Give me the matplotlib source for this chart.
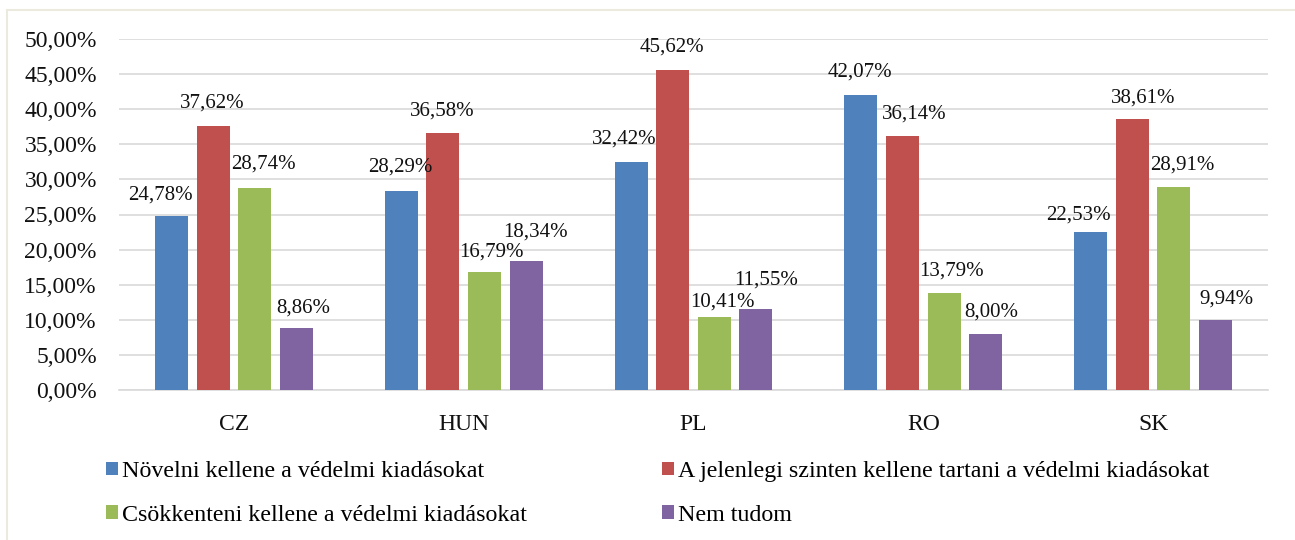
import numpy as np
import matplotlib.pyplot as plt
from matplotlib.patches import Patch, Rectangle
from matplotlib.ticker import FuncFormatter

plt.rcParams['font.family'] = ['Liberation Serif', 'DejaVu Serif']

# Data
countries = ["CZ", "HUN", "PL", "RO", "SK"]
series_names = [
    "Növelni kellene a védelmi kiadásokat",
    "A jelenlegi szinten kellene tartani a védelmi kiadásokat",
    "Csökkenteni kellene a védelmi kiadásokat",
    "Nem tudom",
]
novelni = [24.78, 28.29, 32.42, 42.07, 22.53]
jelenlegi = [37.62, 36.58, 45.62, 36.14, 38.61]
csokkenteni = [28.74, 16.79, 10.41, 13.79, 28.91]
nem_tudom = [8.86, 18.34, 11.55, 8.00, 9.94]

colors = ["#4F81BD", "#C0504D", "#9BBB59", "#8064A2"]

# label nudges (pixels) to mimic the hand-placed labels of the original
label_dx = [[-11, -1, 9, 7], [-1, -1, 7, 9], [-7, -1, 8, 10], [-1, 12, 7, 6], [-12, 11, 8, 11]]
label_dy = [[21, 23, 24, 20], [24, 22, 20, 29], [23, 23, 15, 29], [23, 22, 22, 22], [17, 21, 22, 21]]

fig = plt.figure(figsize=(12.95, 5.4), dpi=100)
ax = fig.add_axes([119 / 1295, 1 - 390 / 540, (1268 - 119) / 1295, (390 - 39) / 540])

x = np.arange(len(countries))
width = 0.1436
step = 0.181
all_series = [novelni, jelenlegi, csokkenteni, nem_tudom]

for i, vals in enumerate(all_series):
    pos = x + (i - 1.5) * step
    ax.bar(pos, np.array(vals) / 100, width, color=colors[i], zorder=3)
    for j, v in enumerate(vals):
        ax.annotate(f"{v:.2f}%".replace(".", ","), (pos[j], v / 100),
                    xytext=(label_dx[j][i], label_dy[j][i]), textcoords="offset pixels",
                    ha="center", va="center", fontsize=15, color="#111111", zorder=4)

ax.set_xlim(-0.5, len(countries) - 0.5)
ax.set_ylim(0, 0.5)
ax.set_yticks(np.arange(0, 0.501, 0.05))
ax.yaxis.set_major_formatter(FuncFormatter(lambda v, _: f"{v * 100:.2f}%".replace(".", ",")))
ax.set_xticks(x)
ax.set_xticklabels(countries)
ax.tick_params(axis="both", length=0, labelsize=17, colors="#111111")
ax.tick_params(axis="y", pad=16)
ax.tick_params(axis="x", pad=17)
ax.grid(axis="y", color="#D9D9D9", linewidth=1.2, zorder=0)
for s in ["top", "right", "left"]:
    ax.spines[s].set_visible(False)
ax.spines["bottom"].set_color("#D9D9D9")
ax.spines["bottom"].set_linewidth(1.2)

# legend: column-wise order so rows read like the original
order = [0, 2, 1, 3]
handles = [Patch(facecolor=colors[k], edgecolor="none") for k in order]
labels = [series_names[k] for k in order]
fig.legend(handles, labels, loc="upper left", bbox_to_anchor=(106 / 1295, 1 - 461 / 540),
           ncol=2, frameon=False, fontsize=17.3, handlelength=0.5, handleheight=0.5,
           handletextpad=0.17, columnspacing=5.6, labelspacing=0.95, borderpad=0,
           borderaxespad=0)

# light outer border of the chart area
fig.patches.append(Rectangle((7 / 1295, -0.1), 2, 1.1 - 10 / 540,
                             transform=fig.transFigure, fill=False,
                             edgecolor="#ECEADF", linewidth=1.5))

fig.savefig("out.png", dpi=100)
